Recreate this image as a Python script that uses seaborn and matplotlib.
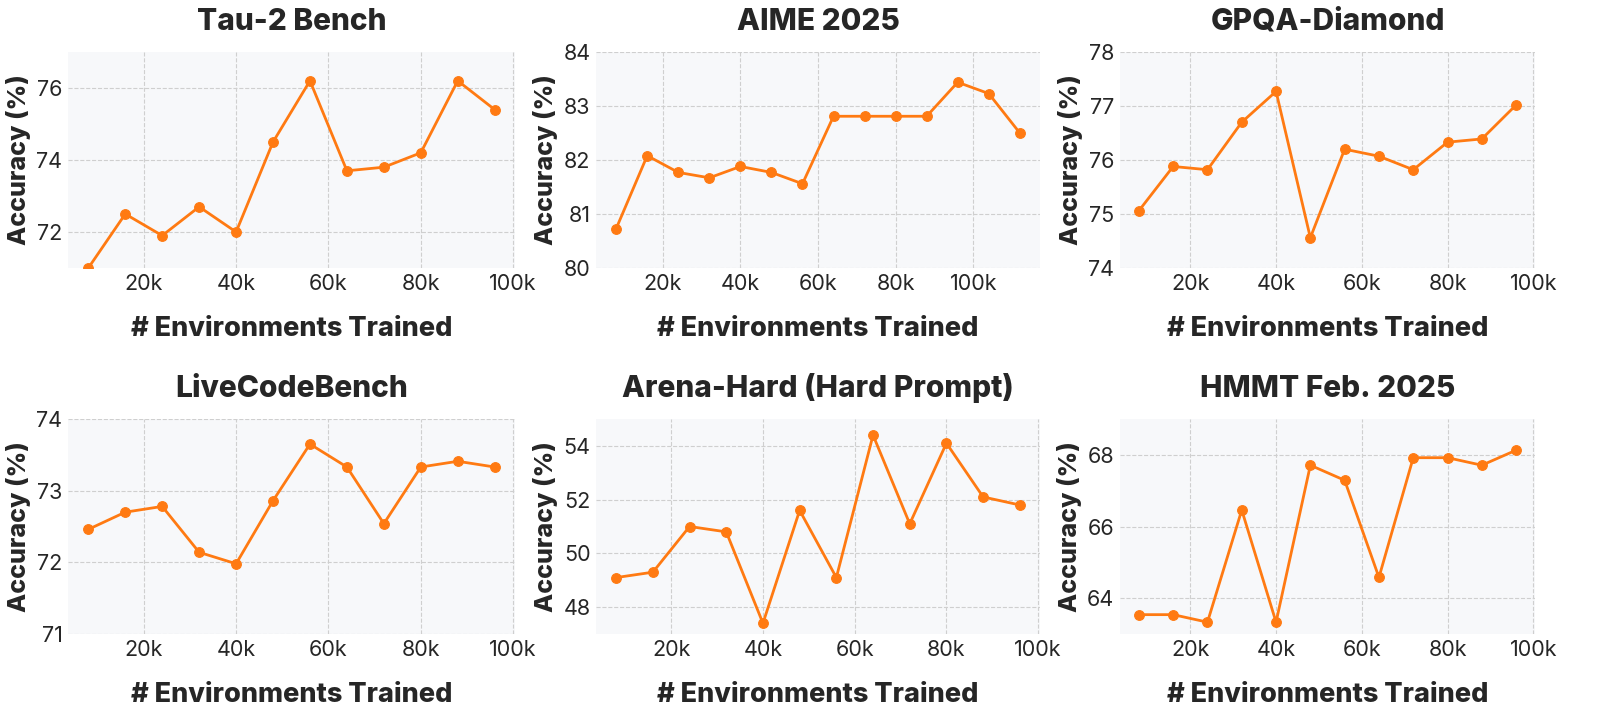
import pandas as pd
import matplotlib
matplotlib.use("Agg")
import matplotlib.pyplot as plt
import seaborn as sns
from matplotlib.ticker import FuncFormatter, MultipleLocator

# environments trained
envs_12 = [8000, 16000, 24000, 32000, 40000, 48000, 56000, 64000, 72000, 80000, 88000, 96000]
envs_14 = envs_12 + [104000, 112000]

# accuracy values
tau2 = [71.0, 72.5, 71.9, 72.7, 72.0, 74.5, 76.2, 73.7, 73.8, 74.2, 76.2, 75.4]
aime = [80.73, 82.08, 81.77, 81.67, 81.88, 81.77, 81.56, 82.81, 82.81, 82.81, 82.81, 83.44, 83.23, 82.50]
gpqa = [75.06, 75.88, 75.82, 76.70, 77.27, 74.56, 76.20, 76.07, 75.82, 76.33, 76.39, 77.02]
lcb = [72.46, 72.70, 72.78, 72.14, 71.98, 72.86, 73.65, 73.33, 72.54, 73.33, 73.41, 73.33]
arena = [49.1, 49.3, 51.0, 50.8, 47.4, 51.6, 49.1, 54.4, 51.1, 54.1, 52.1, 51.8]
hmmt = [63.54, 63.54, 63.33, 66.46, 63.33, 67.71, 67.29, 64.58, 67.92, 67.92, 67.71, 68.13]

titles = ["Tau-2 Bench", "AIME 2025", "GPQA-Diamond",
          "LiveCodeBench", "Arena-Hard (Hard Prompt)", "HMMT Feb. 2025"]
xs = [envs_12, envs_14, envs_12, envs_12, envs_12, envs_12]
ys = [tau2, aime, gpqa, lcb, arena, hmmt]
ylims = [(71, 77), (80, 84), (74, 78), (71, 74), (47, 55), (63, 69)]
ysteps = [2, 1, 1, 1, 2, 2]

sns.set_theme(style="whitegrid")
plt.rcParams["font.family"] = ["Inter", "DejaVu Sans"]
text_color = "#262626"
orange = "#ff7a12"

fig = plt.figure(figsize=(16, 7.17), dpi=100)

# axes boxes in pixels (left, right, top, bottom)
cols = [(68, 515), (596, 1040), (1120, 1535)]
rows = [(52, 268), (419, 634)]
W, H = 1600, 717

for i in range(6):
    r, c = divmod(i, 3)
    l, rt = cols[c]
    t, b = rows[r]
    ax = fig.add_axes([l / W, 1 - b / H, (rt - l) / W, (b - t) / H])

    df = pd.DataFrame({"envs": xs[i], "acc": ys[i]})
    sns.lineplot(data=df, x="envs", y="acc", ax=ax, color=orange, marker="o",
                 markersize=7, linewidth=2.0, markeredgecolor=orange, markeredgewidth=0.8)

    ax.set_facecolor("#f7f8fa")
    ax.set_ylim(*ylims[i])
    ax.yaxis.set_major_locator(MultipleLocator(ysteps[i]))
    ax.xaxis.set_major_locator(MultipleLocator(20000))
    ax.xaxis.set_major_formatter(FuncFormatter(lambda v, p: f"{v/1000:.0f}k"))
    ax.grid(True, linestyle="--", color="#cfcfcf", linewidth=0.8)
    for s in ax.spines.values():
        s.set_visible(False)
    ax.tick_params(axis="both", labelsize=15.5, colors=text_color, length=0, pad=4)

    ax.set_title(titles[i], fontsize=21.5, fontweight="heavy", color=text_color, pad=16)
    ax.set_xlabel("# Environments Trained", fontsize=19.5, fontweight="heavy",
                  color=text_color, labelpad=16)
    ax.set_ylabel("Accuracy (%)", fontsize=18, fontweight="heavy", color=text_color, labelpad=4)

fig.savefig("out.png", dpi=100)
